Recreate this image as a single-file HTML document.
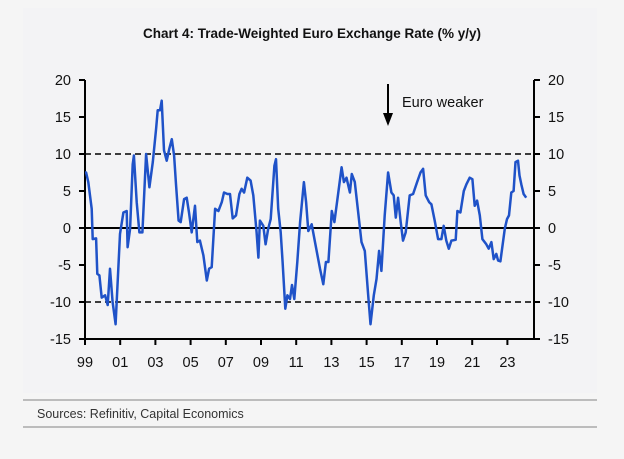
<!DOCTYPE html>
<html><head><meta charset="utf-8"><style>
html,body{margin:0;padding:0;background:#f5f5f5;}
svg{display:block;font-family:"Liberation Sans",sans-serif;}
</style></head><body>
<svg width="624" height="459" viewBox="0 0 624 459">
<rect x="23" y="8" width="574" height="385" fill="#f3f3f5"/>
<text x="312" y="38" text-anchor="middle" font-size="13.5" font-weight="bold" fill="#111">Chart 4: Trade-Weighted Euro Exchange Rate (% y/y)</text>
<g id="axes"></g>
<g id="plot"></g>
<line x1="23" y1="400" x2="597" y2="400" stroke="#aaa" stroke-width="1.5"/>
<text x="37" y="418" font-size="12.5" fill="#333">Sources: Refinitiv, Capital Economics</text>
<line x1="23" y1="427" x2="597" y2="427" stroke="#aaa" stroke-width="1.5"/>
<line x1="388" y1="84" x2="388" y2="116" stroke="#000" stroke-width="2"/>
<polygon points="383,113 393,113 388,126" fill="#000"/>
<text x="402" y="107" font-size="14.5" fill="#111">Euro weaker</text>
</svg>
<script>
const years = [1999.0,1999.06,1999.19,1999.38,1999.44,1999.63,1999.70,1999.82,1999.95,2000.14,2000.29,2000.42,2000.57,2000.74,2000.99,2001.18,2001.37,2001.42,2001.56,2001.71,2001.78,2001.94,2002.09,2002.26,2002.47,2002.66,2002.85,2003.04,2003.13,2003.26,2003.36,2003.49,2003.64,2003.79,2003.93,2004.06,2004.17,2004.32,2004.44,2004.63,2004.78,2004.91,2005.06,2005.25,2005.38,2005.53,2005.73,2005.92,2006.05,2006.20,2006.39,2006.58,2006.77,2006.90,2007.09,2007.24,2007.39,2007.58,2007.77,2007.90,2008.04,2008.22,2008.41,2008.56,2008.75,2008.85,2008.94,2009.13,2009.26,2009.41,2009.55,2009.76,2009.85,2009.98,2010.12,2010.23,2010.38,2010.50,2010.65,2010.76,2010.89,2011.06,2011.22,2011.44,2011.56,2011.69,2011.88,2012.07,2012.35,2012.54,2012.69,2012.83,2013.02,2013.17,2013.39,2013.58,2013.71,2013.86,2014.05,2014.16,2014.33,2014.52,2014.71,2014.90,2015.09,2015.22,2015.41,2015.56,2015.71,2015.84,2016.03,2016.22,2016.41,2016.54,2016.66,2016.79,2016.94,2017.07,2017.22,2017.45,2017.64,2017.87,2018.06,2018.21,2018.36,2018.55,2018.68,2018.87,2019.06,2019.25,2019.38,2019.53,2019.67,2019.82,2020.06,2020.16,2020.33,2020.52,2020.67,2020.86,2021.01,2021.14,2021.28,2021.43,2021.58,2021.80,2021.94,2022.09,2022.22,2022.37,2022.47,2022.60,2022.85,2022.98,2023.09,2023.22,2023.35,2023.46,2023.60,2023.69,2023.79,2023.92,2024.07];
const values = [7.5,7.5,6.2,2.6,-1.5,-1.4,-6.2,-6.4,-9.4,-9.1,-10.4,-5.5,-10,-13,-0.8,2.1,2.3,-2.6,-0.1,8.6,9.8,3.5,-0.6,-0.6,10,5.5,8.9,13.4,15.9,15.9,17.2,10.5,9.1,10.7,12,9.8,5.9,1,0.8,3.9,4.1,2.1,-0.6,3,-1.9,-1.7,-3.7,-7.1,-5.5,-5.3,2.6,2.3,3.5,4.8,4.6,4.6,1.3,1.7,4.6,5.3,4.8,6.8,6.4,4.4,-0.6,-4,1,0.3,-2.2,-0.1,1.2,8.4,9.3,2.6,-0.6,-4.6,-10.9,-9.1,-9.6,-7.7,-9.6,-4.6,0.8,6.2,3.5,-0.4,0.5,-1.9,-5.5,-7.6,-4.6,-4.6,2.3,0.8,4.8,8.2,6.2,6.8,4.8,7.3,6.2,2.1,-1.9,-3.1,-9.1,-13,-9.1,-6.9,-3.1,-5.8,1.7,7.5,4.8,4.4,1.4,4.1,0.8,-1.7,-0.6,4.4,4.6,6.2,7.5,8,4.4,3.5,3.2,1,-1.5,-1.5,0.3,-1.7,-2.8,-1.7,-1.6,2.3,2.1,5,5.9,6.8,6.6,3,3.7,1.7,-1.5,-2.2,-2.8,-1.9,-4.2,-3.5,-4.4,-4.5,-0.1,1.2,1.7,4.8,5,8.9,9.1,7.1,5.9,4.6,4.1];
const yTicks = [20,15,10,5,0,-5,-10,-15];
const xTickYears = [1999,2001,2003,2005,2007,2009,2011,2013,2015,2017,2019,2021,2023];
const xTickLabels = ["99","01","03","05","07","09","11","13","15","17","19","21","23"];
const dashedLevels = [10,-10];

const NS = "http://www.w3.org/2000/svg";
const X0=85, X1=534, Y20=80, Y15m=339;
const xs = yr => X0 + (yr-1999)*17.6;
const ys = v => Y20 + (20 - v)*(Y15m-Y20)/35;
function mk(tag, attrs, parent){const e=document.createElementNS(NS,tag);for(const k in attrs)e.setAttribute(k,attrs[k]);parent.appendChild(e);return e;}
const axes=document.getElementById('axes'), plot=document.getElementById('plot');

dashedLevels.forEach(v=>{
  const l=mk('line',{x1:X0,x2:X1,y1:ys(v),y2:ys(v),stroke:'#000','stroke-width':1.5,'stroke-dasharray':'6,4'},axes);
  
  
});
const z=mk('line',{x1:X0,x2:X1,y1:ys(0),y2:ys(0),stroke:'#000','stroke-width':2},axes);



[X0,X1].forEach((x,i)=>{
  const a=mk('line',{x1:x,x2:x,y1:ys(20),y2:ys(-15),stroke:'#000','stroke-width':2},axes);
  
  
});
const xa=mk('line',{x1:X0,x2:X1,y1:ys(-15),y2:ys(-15),stroke:'#000','stroke-width':2},axes);



yTicks.forEach(v=>{
  const y=ys(v);
  mk('line',{x1:X0-6,x2:X0,y1:y,y2:y,stroke:'#000','stroke-width':2},axes);
  mk('line',{x1:X1,x2:X1+6,y1:y,y2:y,stroke:'#000','stroke-width':2},axes);
  const t1=mk('text',{x:X0-14,y:y+5,'text-anchor':'end','font-size':14.5,fill:'#111'},axes);
  t1.textContent=v;
  
  
  const t2=mk('text',{x:X1+14,y:y+5,'text-anchor':'start','font-size':14.5,fill:'#111'},axes);
  t2.textContent=v;
  
  
});
xTickYears.forEach((yr,i)=>{
  const x=xs(yr);
  mk('line',{x1:x,x2:x,y1:ys(-15),y2:ys(-15)+6,stroke:'#000','stroke-width':2},axes);
  const t=mk('text',{x:x,y:ys(-15)+28,'text-anchor':'middle','font-size':14.5,fill:'#111'},axes);
  t.textContent=xTickLabels[i];
  
  
});
const d=years.map((yr,i)=>(i?'L':'M')+xs(yr).toFixed(1)+','+ys(values[i]).toFixed(1)).join(' ');
const p=mk('path',{d:d,fill:'none',stroke:'#1f52c8','stroke-width':2.5,'stroke-linejoin':'round'},plot);


</script>
</body></html>
